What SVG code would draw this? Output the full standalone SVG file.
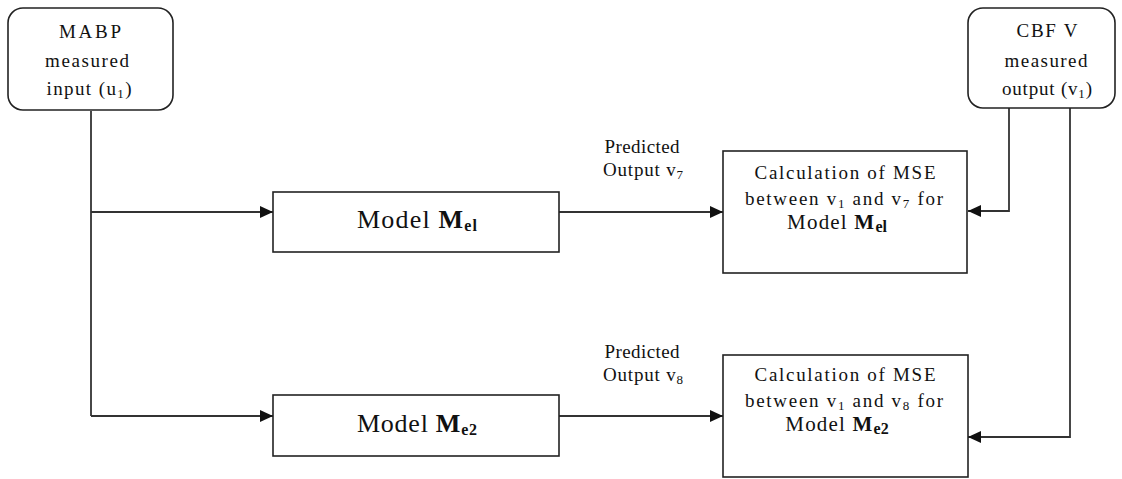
<svg xmlns="http://www.w3.org/2000/svg" width="1122" height="479" viewBox="0 0 1122 479">
  <style>
    .box { fill: #ffffff; stroke: #222222; stroke-width: 1.6; }
    .wire { fill: none; stroke: #333333; stroke-width: 1.8; }
    .t { font-family: "Liberation Serif", "Times New Roman", serif; fill: #111111; font-size: 19px; text-anchor: middle; }
    .big { font-size: 26px; }
    .mid { font-size: 21px; letter-spacing: 1.2px; }
    .sub { font-size: 13px; }
    .bsub { font-size: 16px; font-weight: bold; letter-spacing: 0; }
    .b { font-weight: bold; }
  </style>
  <defs>
    <marker id="arrow" markerUnits="userSpaceOnUse" markerWidth="14" markerHeight="12" refX="13" refY="6" orient="auto">
      <path d="M0,0 L13,6 L0,12 z" fill="#111111"/>
    </marker>
  </defs>

  <rect width="1122" height="479" fill="#ffffff"/>

  <!-- connectors -->
  <g id="connectors">
    <path class="wire" d="M91,111 V416"/>
    <path class="wire" d="M91,212 H273" marker-end="url(#arrow)"/>
    <path class="wire" d="M91,416 H273" marker-end="url(#arrow)"/>
    <path class="wire" d="M559,212 H723" marker-end="url(#arrow)"/>
    <path class="wire" d="M559,416 H723" marker-end="url(#arrow)"/>
    <path class="wire" d="M1009,108 V211 H968" marker-end="url(#arrow)"/>
    <path class="wire" d="M1070,108 V437 H968" marker-end="url(#arrow)"/>
  </g>

  <!-- input source -->
  <g id="mabp-input">
    <rect class="box" x="8" y="8" width="165" height="102" rx="15" ry="15"/>
    <text class="t" x="90" y="38" textLength="62" lengthAdjust="spacing">MABP</text>
    <text class="t" x="87" y="67" textLength="84" lengthAdjust="spacing">measured</text>
    <text class="t" x="89" y="95" textLength="85" lengthAdjust="spacing">input (u<tspan class="sub" dy="3">1</tspan><tspan dy="-3">)</tspan></text>
  </g>

  <!-- measured output -->
  <g id="cbf-output">
    <rect class="box" x="968" y="8" width="147" height="100" rx="15" ry="15"/>
    <text class="t" x="1047" y="37" textLength="61" lengthAdjust="spacing">CBF V</text>
    <text class="t" x="1046" y="67" textLength="83" lengthAdjust="spacing">measured</text>
    <text class="t" x="1047" y="95" textLength="90" lengthAdjust="spacing">output (v<tspan class="sub" dy="3">1</tspan><tspan dy="-3">)</tspan></text>
  </g>

  <!-- model 1 -->
  <g id="model-e1">
    <rect class="box" x="273" y="192" width="286" height="60"/>
    <text class="t big" x="417" y="228" textLength="120" lengthAdjust="spacing">Model <tspan class="b">M</tspan><tspan class="b" font-size="16" dy="3">el</tspan></text>
  </g>

  <!-- model 2 -->
  <g id="model-e2">
    <rect class="box" x="273" y="395" width="286" height="61"/>
    <text class="t big" x="417" y="432" textLength="120" lengthAdjust="spacing">Model <tspan class="b">M</tspan><tspan class="b" font-size="16" dy="3">e2</tspan></text>
  </g>

  <!-- predicted output labels -->
  <g id="label-v7">
    <text class="t" x="642" y="153" textLength="75" lengthAdjust="spacing">Predicted</text>
    <text class="t" x="643" y="176" textLength="80" lengthAdjust="spacing">Output v<tspan class="sub" dy="3">7</tspan></text>
  </g>
  <g id="label-v8">
    <text class="t" x="642" y="358" textLength="75" lengthAdjust="spacing">Predicted</text>
    <text class="t" x="643" y="381" textLength="80" lengthAdjust="spacing">Output v<tspan class="sub" dy="3">8</tspan></text>
  </g>

  <!-- MSE blocks -->
  <g id="mse-e1">
    <rect class="box" x="723" y="151" width="244" height="122"/>
    <text class="t" x="845" y="179" textLength="181" lengthAdjust="spacing">Calculation of MSE</text>
    <text class="t" x="844" y="205" textLength="198" lengthAdjust="spacing">between v<tspan class="sub" dy="3">1</tspan><tspan dy="-3"> and v</tspan><tspan class="sub" dy="3">7</tspan><tspan dy="-3"> for</tspan></text>
    <text class="t mid" x="837" y="229">Model <tspan class="b">M</tspan><tspan class="bsub" dy="3">el</tspan></text>
  </g>

  <g id="mse-e2">
    <rect class="box" x="723" y="355" width="245" height="122"/>
    <text class="t" x="845" y="381" textLength="181" lengthAdjust="spacing">Calculation of MSE</text>
    <text class="t" x="844" y="407" textLength="198" lengthAdjust="spacing">between v<tspan class="sub" dy="3">1</tspan><tspan dy="-3"> and v</tspan><tspan class="sub" dy="3">8</tspan><tspan dy="-3"> for</tspan></text>
    <text class="t mid" x="837" y="431">Model <tspan class="b">M</tspan><tspan class="bsub" dy="3">e2</tspan></text>
  </g>
</svg>
